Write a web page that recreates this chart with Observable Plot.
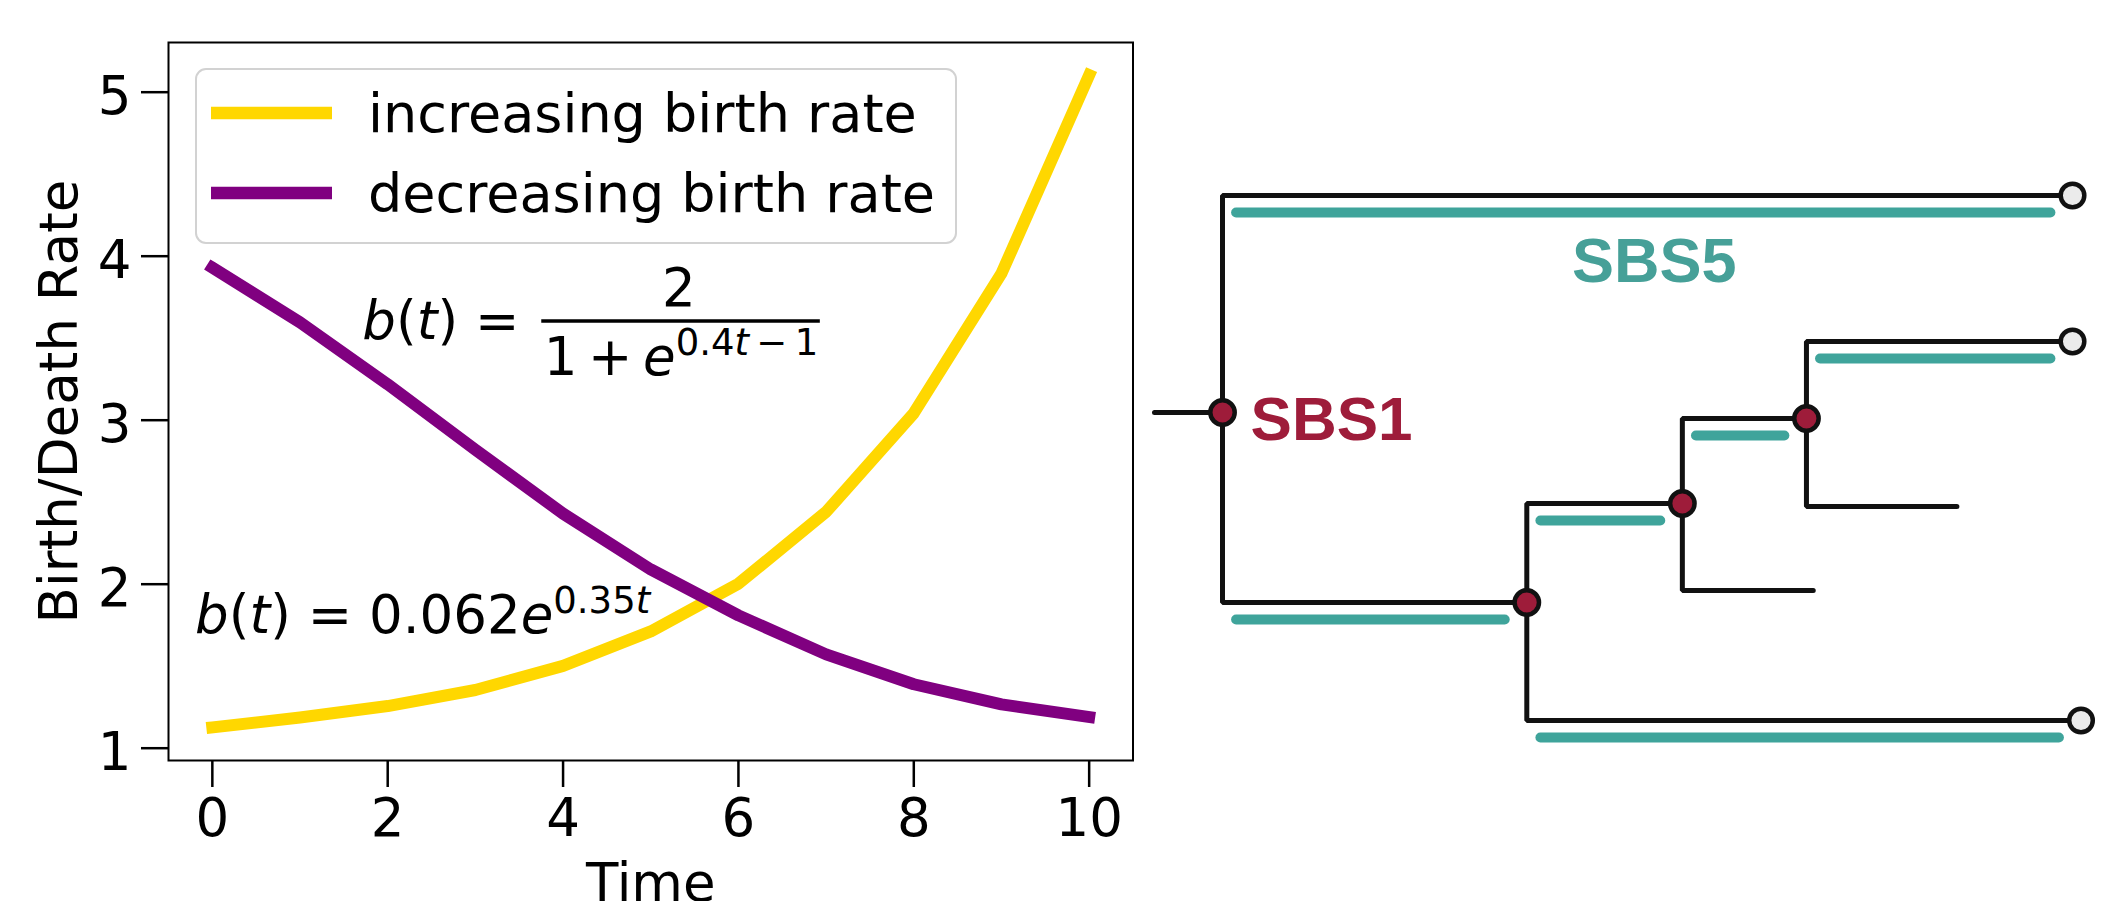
<!DOCTYPE html>
<html>
<head>
<meta charset="utf-8">
<script src="https://cdn.jsdelivr.net/npm/d3@7"></script>
<script src="https://cdn.jsdelivr.net/npm/@observablehq/plot@0.6"></script>
<style>
  html, body { margin: 0; padding: 0; background: #fff; overflow: hidden; }
  #wrap { position: relative; width: 2111px; height: 901px; }
  #left { position: absolute; left: 0; top: 0; }
  #right { position: absolute; left: 1140px; top: 0; }
  text { white-space: pre; }
</style>
</head>
<body>
<div id="wrap"><div id="left"></div><div id="right"></div></div>
<script>
// ---------------- data: left chart ----------------
const time = [0, 1, 2, 3, 4, 5, 6, 7, 8, 9, 10];
const increasing = [1.127, 1.187, 1.257, 1.355, 1.502, 1.712, 2.003, 2.441, 3.043, 3.895, 5.104];
const decreasing = [3.930, 3.597, 3.219, 2.820, 2.430, 2.090, 1.810, 1.572, 1.390, 1.267, 1.190];
const seriesNames = ["increasing birth rate", "decreasing birth rate"];
const seriesColors = ["#ffd700", "#800080"];
const xTicks = [0, 2, 4, 6, 8, 10];
const yTicks = [1, 2, 3, 4, 5];
const xLabel = "Time";
const yLabel = "Birth/Death Rate";

// ---------------- data: right tree diagram ----------------
// internal nodes: root, n2, n3, n4 (x = time, y = lineage position)
const nodeX = [0, 35.8, 54.1, 68.7];
const nodeY = [21.7, 40.7, 30.8, 22.3];
const upperY = [0, 30.8, 22.3, 14.6];
const upperEnd = [100, 54.1, 68.7, 100];
const lowerY = [40.7, 52.5, 39.5, 31.1];
const lowerEnd = [35.8, 101, 69.5, 86.4];
const stemStart = -8;
const tipX = [100, 100, 101];
const tipY = [0, 14.6, 52.5];
// branches that carry SBS5 (node index, side)
const sbs5Branches = [[0, "u"], [0, "l"], [1, "u"], [1, "l"], [2, "u"], [3, "u"]];
const sigLabels = ["SBS1", "SBS5"];
const sigLabelX = [3.3, 50.8];
const sigLabelY = [24.4, 8.6];

// ---------------- styling ----------------
const FONT = "DejaVu Sans";
const FS = 53;
const FS_LEGEND = 54;
const RED = "#9e1c3a";
const TEAL = "#3fa49b";
const TEAL_TEXT = "#46a098";
const INK = "#111";

// ---------------- left chart ----------------
const seriesValues = [increasing, decreasing];

function legendMark(...args) {
  const dims = args.find(a => a && typeof a === "object" && "marginLeft" in a && "width" in a);
  const g = d3.create("svg:g");
  const bx = dims.marginLeft + 28, by = dims.marginTop + 27;
  g.append("rect").attr("x", bx).attr("y", by).attr("width", 760).attr("height", 174)
    .attr("rx", 10).attr("fill", "white").attr("fill-opacity", 0.8)
    .attr("stroke", "#d2d2d2").attr("stroke-width", 2);
  seriesNames.forEach((name, i) => {
    const cy = by + 44 + i * 80;
    g.append("line").attr("x1", bx + 15).attr("x2", bx + 136).attr("y1", cy).attr("y2", cy)
      .attr("stroke", seriesColors[i]).attr("stroke-width", 12.5);
    g.append("text").attr("x", bx + 172).attr("y", cy).attr("dy", "0.35em")
      .attr("text-anchor", "start")
      .attr("font-size", FS_LEGEND).attr("fill", "black").text(name);
  });
  return g.node();
}

const annStart = [
  {label: "b(t) =", x: 1.711, y: 3.498},
  {label: "b(t) = 0.062e^{0.35t}", x: -0.197, y: 1.701}
];
const annMiddle = [
  {label: "2", x: 5.322, y: 3.699},
  {label: "1 + e^{0.4t − 1}", x: 5.345, y: 3.2726}
];
const richParts = {
  "b(t) =": [["b", "i"], ["("], ["t", "i"], [") ="]],
  "1 + e^{0.4t − 1}": [["1\u2009+\u2009"], ["e", "i"], ["0.4", "s"], ["t", "si"], ["\u2009−\u20091", "s"]],
  "b(t) = 0.062e^{0.35t}": [["b", "i"], ["("], ["t", "i"], [") = 0.062"], ["e", "i"], ["0.35", "s"], ["t", "si"]]
};

const left = Plot.plot({
  width: 1140, height: 901,
  marginLeft: 168, marginRight: 7.5, marginTop: 42, marginBottom: 141,
  x: {domain: [-0.5, 10.5]},
  y: {domain: [0.925, 5.303]},
  style: {fontFamily: FONT, fontSize: FS + "px", background: "white", maxWidth: "none", overflow: "visible", color: "black"},
  marks: [
    ...seriesValues.map((vals, i) =>
      Plot.line(time.map((t, j) => ({t, v: vals[j]})), {
        x: "t", y: "v", stroke: seriesColors[i], strokeWidth: 12,
        strokeLinecap: "square", strokeLinejoin: "round"
      })
    ),
    Plot.ruleY([3.605], {x1: 3.757, x2: 6.934, stroke: "black", strokeWidth: 3.5}),
    Plot.text(annStart, {x: "x", y: "y", text: "label", textAnchor: "start", lineAnchor: "bottom", fontSize: FS, fill: "black"}),
    Plot.text(annMiddle, {x: "x", y: "y", text: "label", textAnchor: "middle", lineAnchor: "bottom", fontSize: FS, fill: "black"}),
    Plot.axisX({ticks: xTicks, tickFormat: d => String(d), tickSize: 27, tickPadding: 11, strokeWidth: 2.5, fontSize: FS, label: null}),
    Plot.axisY({ticks: yTicks, tickSize: 27, strokeWidth: 2.5, fill: "none", label: null}),
    Plot.axisY({ticks: yTicks, tickFormat: d => String(d), tickSize: 0, tickPadding: 37, dy: 5, fontSize: FS, label: null}),
    Plot.frame({stroke: "black", strokeWidth: 2}),
    Plot.text([xLabel], {text: d => d, frameAnchor: "bottom", dy: 140, lineAnchor: "bottom", fontSize: FS, fill: "black"}),
    Plot.text([yLabel], {text: d => d, frameAnchor: "left", dx: -92, rotate: -90, lineAnchor: "bottom", textAnchor: "middle", fontSize: FS, fill: "black"}),
    legendMark
  ]
});

// rich (math) text: italics and superscripts
const SVGNS = "http://www.w3.org/2000/svg";
left.querySelectorAll("text").forEach(t => {
  const parts = richParts[t.textContent];
  if (!parts) return;
  t.textContent = "";
  let supStarted = false;
  parts.forEach(([s, f = ""]) => {
    const ts = document.createElementNS(SVGNS, "tspan");
    ts.textContent = s;
    if (f.includes("i")) ts.setAttribute("font-style", "italic");
    if (f.includes("s")) {
      ts.setAttribute("font-size", 37);
      if (!supStarted) { ts.setAttribute("dy", "-0.55em"); supStarted = true; }
    }
    t.appendChild(ts);
  });
});
document.getElementById("left").appendChild(left);

// ---------------- right tree diagram ----------------
const treePts = [];
nodeX.forEach((nx, i) => {
  treePts.push({clade: i, x: upperEnd[i], y: upperY[i]});
  treePts.push({clade: i, x: nx, y: upperY[i]});
  treePts.push({clade: i, x: nx, y: lowerY[i]});
  treePts.push({clade: i, x: lowerEnd[i], y: lowerY[i]});
});
treePts.push({clade: "stem", x: stemStart, y: nodeY[0]});
treePts.push({clade: "stem", x: nodeX[0], y: nodeY[0]});

const bars = sbs5Branches.map(([i, side]) => {
  const end = side === "u" ? upperEnd[i] : lowerEnd[i];
  const y = side === "u" ? upperY[i] : lowerY[i];
  return {x1: nodeX[i] + 1.6, x2: end - 2.6, y};
});
const internal = nodeX.map((x, i) => ({x, y: nodeY[i]}));
const tips = tipX.map((x, i) => ({x, y: tipY[i]}));
const labels = sigLabels.map((s, i) => ({s, x: sigLabelX[i], y: sigLabelY[i]}));

const right = Plot.plot({
  width: 971, height: 901, margin: 0,
  x: {domain: [0, 100], range: [82, 932]},
  y: {domain: [0, 52.5], range: [195, 720]},
  axis: null,
  style: {fontFamily: "Liberation Sans", background: "white", maxWidth: "none", overflow: "visible"},
  marks: [
    Plot.link(bars, {x1: "x1", x2: "x2", y1: "y", y2: "y", dy: 17, stroke: TEAL, strokeWidth: 10, strokeLinecap: "round"}),
    Plot.line(treePts, {x: "x", y: "y", z: "clade", stroke: INK, strokeWidth: 5, strokeLinejoin: "miter", strokeLinecap: "round"}),
    Plot.dot(internal, {x: "x", y: "y", r: 12.2, fill: RED, stroke: INK, strokeWidth: 4.5}),
    Plot.dot(tips, {x: "x", y: "y", r: 11.8, fill: "#ebebeb", stroke: INK, strokeWidth: 4.5}),
    Plot.text(labels.slice(0, 1), {x: "x", y: "y", text: "s", textAnchor: "start", lineAnchor: "bottom", fontSize: 62, fontWeight: "bold", fill: RED}),
    Plot.text(labels.slice(1), {x: "x", y: "y", text: "s", textAnchor: "middle", lineAnchor: "bottom", fontSize: 63, fontWeight: "bold", fill: TEAL_TEXT})
  ]
});
document.getElementById("right").appendChild(right);
</script>
</body>
</html>
